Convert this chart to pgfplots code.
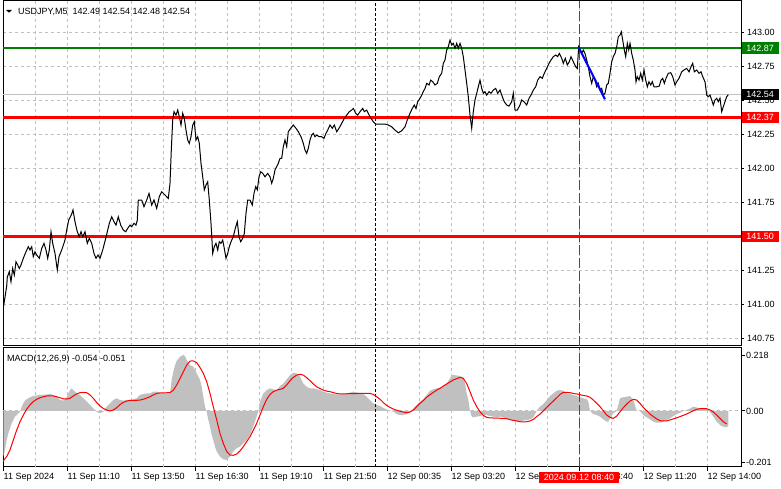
\documentclass[border=0pt]{standalone}
\usepackage{pgfplots}
\pgfplotsset{compat=1.18}
\usepackage{fontspec}
\setmainfont{Liberation Sans}
\definecolor{mtgreen}{RGB}{0,128,0}
\definecolor{mtred}{RGB}{255,0,0}
\definecolor{gridgray}{RGB}{192,192,192}
\definecolor{histgray}{RGB}{192,192,192}
\newcommand{\fs}{\fontsize{9}{10}\selectfont}
\begin{document}
\begin{tikzpicture}
\useasboundingbox (0pt,0pt) rectangle (781pt,489pt);
% ---------------- main price panel ----------------
\begin{axis}[
  at={(3pt,143pt)}, anchor=south west,
  scale only axis, width=738pt, height=345pt,
  xmin=3, xmax=741, ymin=140.694, ymax=143.228,
  axis line style={line width=1pt},
  clip mode=individual,
  xtick={35.5,67.5,...,707.5}, xticklabels={},
  xtick style={draw=none},
  ytick={140.75,141,141.25,141.5,141.75,142,142.25,142.5,142.75,143},
  yticklabels={140.75,141.00,141.25,141.50,141.75,142.00,142.25,142.50,142.75,143.00},
  ytick pos=right, yticklabel pos=right,
  ytick style={line width=1pt, black},
  tick align=outside, major tick length=3pt,
  grid=major,
  major grid style={gridgray, dash pattern=on 3pt off 3pt, line width=1pt},
  yticklabel style={font=\fs, anchor=west, inner sep=0pt, xshift=3pt},
]
\addplot[gridgray, line width=1pt] coordinates {(3,142.54) (741,142.54)};
\addplot[mtgreen, line width=2pt] coordinates {(3,142.883) (741,142.883)};
\addplot[mtred, line width=3pt] coordinates {(3,142.37) (741,142.37)};
\addplot[mtred, line width=3pt] coordinates {(3,141.50) (741,141.50)};
\addplot[black, line width=1pt, dash pattern=on 3pt off 2pt] coordinates {(375.7,140.694) (375.7,143.228)};
\addplot[mtred, line width=1pt, dash pattern=on 10pt off 3pt] coordinates {(579,140.694) (579,143.228)};
\addplot[black, line width=1pt] coordinates {
(3,140.958)(6.7,141.134)(7.3,141.20)(9.3,141.24)(11,141.166)(12.7,141.264)(14.3,141.215)(16,141.313)(17.7,141.289)(19.3,141.264)
(21,141.289)(23.3,141.338)(26,141.386)(28.3,141.423)(30,141.399)(31.7,141.423)(33.3,141.35)(35,141.386)(36.7,141.362)(39.3,141.338)
(41.7,141.41)(44,141.448)(46,141.399)(47.7,141.338)(49.3,141.399)(51,141.533)(52.7,141.448)(55,141.374)(57.3,141.252)(59,141.35)
(61.7,141.399)(65,141.472)(66.7,141.546)(68.7,141.619)(71.3,141.656)(73,141.693)(75,141.607)(77.3,141.533)(79.3,141.497)(81,141.533)
(82.7,141.497)(85,141.533)(87.3,141.448)(89.3,141.485)(91.7,141.448)(94,141.374)(96,141.338)(98,141.362)(100,141.338)(102.7,141.399)
(105.3,141.472)(107.3,141.533)(109.3,141.595)(111.7,141.643)(114,141.607)(116,141.582)(118.3,141.643)(120.7,141.582)(123.3,141.546)(125.7,141.533)
(127.7,141.558)(130,141.582)(131.7,141.570)(134,141.595)(136,141.582)(137.3,141.619)(138.3,141.766)(141.7,141.766)(144,141.717)(146.7,141.766)
(149,141.815)(151.7,141.729)(154,141.766)(156.7,141.705)(159.3,141.79)(161.7,141.827)(165,141.803)(168.3,141.778)(170,141.889)(171.3,142.133)
(172.7,142.354)(174,142.415)(176,142.39)(177.7,142.427)(179.3,142.378)(181,142.317)(182.7,142.403)(184.3,142.366)(186,142.28)(187.7,142.207)
(189.3,142.182)(191,142.231)(192.7,142.317)(194.3,142.341)(196,142.207)(197.7,142.231)(199.3,142.182)(201,142.036)(202.7,141.937)(204.3,141.840)
(206,141.876)(207.7,141.9)(209.3,141.766)(211,141.595)(212.7,141.374)(214.3,141.423)(216,141.448)(217.7,141.399)(219.3,141.46)(221,141.448)
(222.7,141.472)(224.3,141.41)(226,141.338)(227.7,141.374)(229.3,141.423)(231,141.46)(233.3,141.497)(235.3,141.558)(237.3,141.607)(239,141.497)
(240.7,141.46)(242.7,141.485)(244.3,141.521)(246,141.668)(247.7,141.766)(250,141.766)(252.3,141.729)(254,141.815)(255.7,141.864)(257.3,141.84)
(259,141.937)(260.7,141.974)(262.7,141.962)(265,141.937)(267.7,141.962)(270,141.937)(271.7,141.889)(273.3,141.925)(275,141.987)(276.7,142.011)
(278.3,142.036)(280,142.072)(281.7,142.072)(283.3,142.158)(285,142.207)(286.7,142.158)(288.3,142.268)(290.7,142.293)(293.3,142.317)(296,142.293)
(298.3,142.268)(301,142.231)(303.3,142.182)(305,142.133)(306.7,142.109)(308.3,142.146)(310,142.207)(311.7,142.243)(313.3,142.256)(315,142.231)
(316.7,142.243)(319.3,142.231)(321.7,142.231)(324,142.219)(326,142.256)(327.7,142.28)(330,142.317)(332.3,142.293)(334.3,142.317)(336.7,142.268)
(339,142.293)(341.7,142.329)(344.3,142.366)(346.7,142.39)(349.3,142.415)(351.7,142.427)(353.3,142.439)(355.7,142.403)(357.7,142.39)(360,142.415)
(362.7,142.439)(364.3,142.415)(366.7,142.427)(370,142.378)(373.3,142.341)(375.7,142.324)(380,142.324)(385,142.324)(388.3,142.317)(391.7,142.304)
(395,142.28)(398.3,142.26)(401.7,142.275)(405,142.304)(407.3,142.354)(410,142.403)(412.3,142.439)(414.3,142.464)(416,142.439)(417.7,142.488)
(420,142.513)(421.7,142.537)(423.3,142.562)(425,142.586)(426.7,142.623)(429,142.611)(430.7,142.647)(432.7,142.635)(435,142.611)(437.3,142.623)
(439.3,142.672)(441.7,142.697)(443.3,142.77)(445,142.794)(446.7,142.868)(448.3,142.892)(450,142.941)(451.7,142.905)(453.3,142.917)(455,142.88)
(456.7,142.917)(458.3,142.88)(460,142.917)(461.7,142.88)(463.3,142.819)(465,142.721)(466.7,142.623)(468.3,142.525)(470,142.39)(471.7,142.293)
(473.3,142.415)(475,142.501)(476.7,142.55)(478.3,142.598)(480,142.647)(481.7,142.586)(483.3,142.55)(485,142.562)(486.7,142.537)(489,142.562)
(491,142.55)(493.3,142.574)(495.7,142.586)(497.7,142.55)(500,142.574)(502.3,142.525)(504.3,142.488)(506.7,142.464)(509,142.456)(511.7,142.488)
(513.3,142.55)(515,142.427)(517.3,142.427)(520,142.464)(521.7,142.501)(524,142.488)(526.7,142.464)(529,142.513)(531,142.537)(533.3,142.574)
(535.7,142.598)(537.7,142.647)(540,142.672)(542.3,142.66)(544.3,142.697)(546.7,142.733)(549,142.77)(551,142.794)(553.3,142.819)(555.7,142.831)
(557.7,142.819)(559.3,142.843)(561.7,142.807)(563.3,142.77)(565.3,142.807)(567.3,142.758)(569.3,142.782)(571,142.819)(573.3,142.782)(575.7,142.745)
(577.3,142.733)(578.7,142.892)(580,142.868)(581.7,142.843)(583.3,142.868)(585,142.843)(586.7,142.794)(588.3,142.745)(590,142.672)(591.7,142.623)
(593.3,142.672)(595,142.647)(596.7,142.598)(598.3,142.623)(600,142.574)(601.7,142.586)(603.3,142.537)(605,142.55)(606.7,142.611)(608.3,142.623)
(610,142.697)(611.7,142.782)(613.3,142.819)(615,142.843)(616.7,142.892)(618.3,142.966)(620,142.978)(621.3,143.002)(622.7,142.941)(624.3,142.868)
(625.7,142.819)(627.3,142.917)(628.7,142.868)(630,142.917)(631.7,142.843)(633.3,142.794)(635,142.721)(636,142.635)(637.3,142.672)(639,142.647)
(640.7,142.697)(642.3,142.647)(644,142.721)(645.7,142.647)(647.3,142.598)(649,142.635)(650.7,142.611)(652.3,142.635)(654,142.598)(656.7,142.598)
(659.3,142.603)(661,142.647)(662.7,142.66)(664.3,142.623)(666,142.66)(668.3,142.697)(670.7,142.701)(672.7,142.672)(675,142.611)(676.7,142.635)
(679,142.66)(681.7,142.708)(684,142.721)(686.7,142.733)(689,142.708)(691,142.745)(692.7,142.77)(694.3,142.708)(696.7,142.721)(699,142.697)
(701,142.708)(702.7,142.672)(705,142.635)(706.7,142.537)(708.3,142.525)(710,142.537)(711.7,142.501)(713.3,142.464)(715,142.501)(716.7,142.513)
(718.3,142.488)(720,142.513)(721.7,142.415)(723.3,142.452)(725,142.488)(726.7,142.525)(728.3,142.54)
};
\addplot[blue, line width=2pt] coordinates {(578.5,142.89) (605,142.506)};
\coordinate (lg) at (axis cs:741,142.883);
\coordinate (lk) at (axis cs:741,142.54);
\coordinate (lr1) at (axis cs:741,142.37);
\coordinate (lr2) at (axis cs:741,141.50);
\end{axis}
% ---------------- MACD panel ----------------
\begin{axis}[
  at={(3pt,22pt)}, anchor=south west,
  scale only axis, width=738pt, height=119pt,
  xmin=3, xmax=741, ymin=-0.2199, ymax=0.2474,
  axis line style={line width=1pt},
  clip mode=individual,
  xtick={3.5,67.5,...,707.5},
  xticklabels={11 Sep 2024,11 Sep 11:10,11 Sep 13:50,11 Sep 16:30,11 Sep 19:10,11 Sep 21:50,12 Sep 00:35,12 Sep 03:20,12 Sep 06:00,12 Sep 08:40,12 Sep 11:20,12 Sep 14:00},
  extra x ticks={35.5,99.5,...,675.5},
  extra x tick labels={},
  extra x tick style={major tick length=0pt},
  xtick pos=bottom,
  xmajorgrids=true, ymajorgrids=false,
  major grid style={gridgray, dash pattern=on 3pt off 3pt, line width=1pt},
  ytick={-0.201,0,0.218},
  yticklabels={-0.201,0.00,0.218},
  ytick pos=right, yticklabel pos=right,
  tick style={line width=1pt, black},
  tick align=outside, major tick length=4pt,
  yticklabel style={font=\fs, anchor=west, inner sep=0pt, xshift=1pt},
  xticklabel style={font=\fs, anchor=north west, inner sep=0pt, yshift=-2pt},
]
\addplot[gridgray, line width=1pt, dash pattern=on 3pt off 3pt] coordinates {(3,0) (741,0)};
\addplot[fill=histgray, draw=none] coordinates {
(3.3,-0.179)(5,-0.153)(6.7,-0.114)(8.3,-0.088)(10,-0.068)(11.7,-0.048)(13.3,-0.035)(15,-0.022)(16.7,-0.016)(18.3,-0.009)
(20,-0.003)(21.7,0.017)(23.3,0.030)(25,0.041)(26.7,0.046)(30,0.054)(33.3,0.059)(36.7,0.061)(40,0.063)(43.3,0.064)
(46.7,0.065)(50,0.067)(53.3,0.063)(56.7,0.056)(60,0.043)(63.3,0.041)(66.7,0.054)(68.3,0.069)(70,0.082)(71.7,0.089)
(73.3,0.082)(75,0.076)(76.7,0.069)(80,0.063)(83.3,0.050)(86.7,0.037)(90,0.024)(93.3,0.010)(96.7,-0.003)(100,-0.009)
(103.3,-0.003)(106.7,0.017)(110,0.030)(113.3,0.043)(116.7,0.050)(120,0.043)(123.3,0.041)(126.7,0.043)(130,0.041)(133.3,0.046)
(136.7,0.050)(140,0.063)(143.3,0.067)(146.7,0.069)(150,0.069)(153.3,0.076)(156.7,0.076)(160,0.072)(163.3,0.069)(166.7,0.069)
(170,0.069)(171.7,0.122)(173.3,0.154)(175,0.180)(176.7,0.197)(180,0.213)(183.3,0.220)(185,0.216)(186.7,0.200)(190,0.180)
(193.3,0.174)(196.7,0.148)(200,0.122)(201.7,0.095)(203.3,0.056)(205,0.017)(206.7,-0.003)(208.3,-0.035)(210,-0.061)(211.7,-0.094)
(213.3,-0.114)(215,-0.140)(216.7,-0.159)(220,-0.179)(223.3,-0.190)(226.7,-0.192)(230,-0.179)(233.3,-0.159)(236.7,-0.146)(240,-0.140)
(243.3,-0.127)(246.7,-0.114)(250,-0.094)(253.3,-0.061)(256.7,-0.022)(258.3,-0.003)(260,0.037)(263.3,0.069)(266.7,0.082)(270,0.089)
(273.3,0.085)(276.7,0.082)(280,0.098)(283.3,0.108)(286.7,0.124)(290,0.141)(293.3,0.150)(296.7,0.148)(300,0.135)(303.3,0.108)
(306.7,0.095)(310,0.089)(313.3,0.089)(316.7,0.086)(320,0.082)(323.3,0.076)(326.7,0.072)(330,0.069)(333.3,0.067)(336.7,0.065)
(340,0.065)(343.3,0.067)(346.7,0.069)(350,0.072)(353.3,0.076)(356.7,0.073)(360,0.069)(363.3,0.067)(366.7,0.056)(370,0.043)
(373.3,0.030)(376.7,0.024)(380,0.020)(383.3,0.012)(386.7,0.006)(390,0.001)(393.3,-0.003)(396.7,-0.012)(400,-0.016)(403.3,-0.016)
(406.7,-0.012)(410,-0.003)(413.3,0.010)(416.7,0.024)(420,0.037)(423.3,0.046)(426.7,0.063)(430,0.080)(433.3,0.085)(436.7,0.089)
(440,0.092)(443.3,0.095)(446.7,0.108)(450,0.128)(451.7,0.141)(453.3,0.141)(456.7,0.140)(460,0.137)(463.3,0.132)(465,0.108)
(466.7,0.069)(468.3,0.043)(470,0)(471.7,-0.022)(473.3,-0.025)(476.7,-0.022)(480,-0.020)(483.3,-0.016)(486.7,-0.016)(490,-0.020)
(493.3,-0.022)(496.7,-0.025)(500,-0.022)(503.3,-0.025)(506.7,-0.029)(510,-0.033)(513.3,-0.038)(516.7,-0.042)(520,-0.042)(523.3,-0.038)
(526.7,-0.035)(530,-0.033)(533.3,-0.025)(536.7,0)(538.3,0.010)(540,0.017)(543.3,0.027)(546.7,0.043)(550,0.059)(553.3,0.069)
(556.7,0.080)(560,0.082)(563.3,0.080)(566.7,0.069)(570,0.067)(573.3,0.063)(576.7,0.059)(580,0.054)(583.3,0.050)(586.7,0.046)
(588.3,0.037)(590,0)(593.3,-0.012)(596.7,-0.016)(600,-0.022)(603.3,-0.033)(606.7,-0.042)(608.3,-0.042)(610,-0.029)(613.3,-0.009)
(616.7,0)(618.3,0.024)(620,0.050)(623.3,0.054)(626.7,0.056)(630,0.059)(633.3,0.043)(636.7,0)(640,0)(643.3,-0.016)
(646.7,-0.025)(650,-0.033)(653.3,-0.042)(656.7,-0.046)(660,-0.046)(663.3,-0.042)(666.7,-0.035)(670,-0.029)(673.3,-0.020)(676.7,-0.012)
(680,-0.007)(683.3,0)(686.7,0.004)(690,0.010)(693.3,0.017)(696.7,0.014)(700,0.010)(703.3,0.010)(706.7,0.010)(710,-0.003)
(713.3,-0.022)(716.7,-0.042)(720,-0.055)(723.3,-0.062)(726.7,-0.064)(728.3,-0.058)
} \closedcycle;
\addplot[black, line width=1pt, dash pattern=on 3pt off 2pt] coordinates {(375.7,-0.2199) (375.7,0.2474)};
\addplot[mtred, line width=1pt, dash pattern=on 10pt off 3pt] coordinates {(579,-0.2199) (579,0.2474)};
\addplot[mtred, line width=1pt] coordinates {
(2.7,-0.199)(6.7,-0.179)(10,-0.153)(13.3,-0.114)(16.7,-0.075)(20,-0.042)(23.3,-0.016)(26.7,0.007)(30,0.024)(33.3,0.037)
(36.7,0.046)(40,0.052)(43.3,0.056)(46.7,0.059)(53.3,0.059)(56.7,0.056)(60,0.052)(63.3,0.048)(66.7,0.047)(70,0.050)
(73.3,0.059)(76.7,0.067)(80,0.072)(83.3,0.073)(86.7,0.072)(90,0.063)(93.3,0.050)(96.7,0.033)(100,0.020)(103.3,0.010)
(106.7,0.004)(110,0)(113.3,0.004)(116.7,0.013)(120,0.025)(123.3,0.034)(126.7,0.039)(130,0.042)(136.7,0.042)(140,0.043)
(143.3,0.046)(146.7,0.051)(150,0.056)(153.3,0.063)(156.7,0.069)(160,0.071)(170,0.072)(173.3,0.082)(176.7,0.102)(180,0.128)
(183.3,0.154)(186.7,0.180)(190,0.196)(193.3,0.197)(196.7,0.190)(200,0.171)(203.3,0.148)(206.7,0.115)(210,0.069)(213.3,0.017)
(216.7,-0.035)(220,-0.088)(223.3,-0.127)(226.7,-0.159)(230,-0.173)(233.3,-0.174)(236.7,-0.169)(240,-0.157)(243.3,-0.140)(246.7,-0.120)
(250,-0.101)(253.3,-0.075)(256.7,-0.048)(260,-0.016)(263.3,0.017)(266.7,0.046)(270,0.065)(273.3,0.076)(276.7,0.082)(280,0.085)
(283.3,0.089)(286.7,0.102)(290,0.119)(293.3,0.132)(296.7,0.141)(300,0.144)(303.3,0.141)(306.7,0.131)(310,0.119)(313.3,0.106)
(316.7,0.095)(320,0.088)(323.3,0.082)(326.7,0.078)(330,0.076)(333.3,0.072)(336.7,0.069)(340,0.067)(350,0.068)(360,0.069)
(370,0.069)(373.3,0.065)(376.7,0.056)(380,0.046)(383.3,0.033)(386.7,0.022)(390,0.014)(393.3,0.008)(396.7,0.003)(400,-0.001)
(403.3,-0.004)(406.7,-0.007)(410,-0.004)(413.3,0.004)(416.7,0.017)(420,0.030)(423.3,0.041)(426.7,0.054)(430,0.064)(433.3,0.073)
(436.7,0.082)(440,0.089)(443.3,0.098)(446.7,0.106)(450,0.114)(453.3,0.122)(456.7,0.127)(460,0.132)(463.3,0.128)(466.7,0.108)
(470,0.076)(473.3,0.043)(476.7,0.017)(480,-0.003)(483.3,-0.017)(486.7,-0.025)(490,-0.027)(503.3,-0.029)(506.7,-0.030)(510,-0.034)
(513.3,-0.037)(516.7,-0.039)(520,-0.042)(523.3,-0.043)(526.7,-0.042)(530,-0.039)(533.3,-0.033)(536.7,-0.022)(540,-0.012)(543.3,0.001)
(546.7,0.014)(550,0.027)(553.3,0.039)(556.7,0.052)(560,0.065)(563.3,0.073)(566.7,0.073)(570,0.072)(573.3,0.069)(576.7,0.067)
(580,0.064)(583.3,0.061)(586.7,0.059)(590,0.054)(593.3,0.043)(596.7,0.030)(600,0.017)(603.3,0.001)(606.7,-0.016)(610,-0.025)
(613.3,-0.029)(616.7,-0.020)(620,-0.003)(623.3,0.013)(626.7,0.027)(630,0.039)(633.3,0.046)(636.7,0.043)(640,0.030)(643.3,0.014)
(646.7,0.001)(650,-0.012)(653.3,-0.022)(656.7,-0.031)(660,-0.038)(663.3,-0.039)(666.7,-0.039)(670,-0.035)(673.3,-0.031)(676.7,-0.027)
(680,-0.022)(683.3,-0.017)(686.7,-0.012)(690,-0.005)(693.3,0.001)(696.7,0.007)(700,0.009)(706.7,0.009)(710,0.004)(713.3,-0.004)
(716.7,-0.016)(720,-0.029)(723.3,-0.042)(726.7,-0.051)
};
\end{axis}
% ---------------- texts and price boxes ----------------
\fill (6pt,479pt) -- (12pt,479pt) -- (9pt,476.3pt) -- cycle;
\node[anchor=base west, font=\fs, inner sep=0pt] at (18pt,474pt) {USDJPY,M5\ \ 142.49 142.54 142.48 142.54};
\node[anchor=base west, font=\fs, inner sep=0pt] at (7pt,127pt) {MACD(12,26,9) -0.054 -0.051};
\node[fill=mtgreen, text=white, anchor=west, minimum width=37pt, minimum height=12pt, inner sep=0pt, font=\fs, xshift=0.5pt] at (lg) {142.87};
\node[fill=black, text=white, anchor=west, minimum width=37pt, minimum height=11pt, inner sep=0pt, font=\fs, xshift=0.5pt] at (lk) {142.54};
\node[fill=mtred, text=white, anchor=west, minimum width=37pt, minimum height=11pt, inner sep=0pt, font=\fs, xshift=0.5pt] at (lr1) {142.37};
\node[fill=mtred, text=white, anchor=west, minimum width=37pt, minimum height=11pt, inner sep=0pt, font=\fs, xshift=0.5pt] at (lr2) {141.50};
\node[fill=mtred, text=white, minimum width=80pt, minimum height=11pt, inner sep=0pt, font=\fs] at (579pt,11.8pt) {2024.09.12 08:40};
\end{tikzpicture}
\end{document}
